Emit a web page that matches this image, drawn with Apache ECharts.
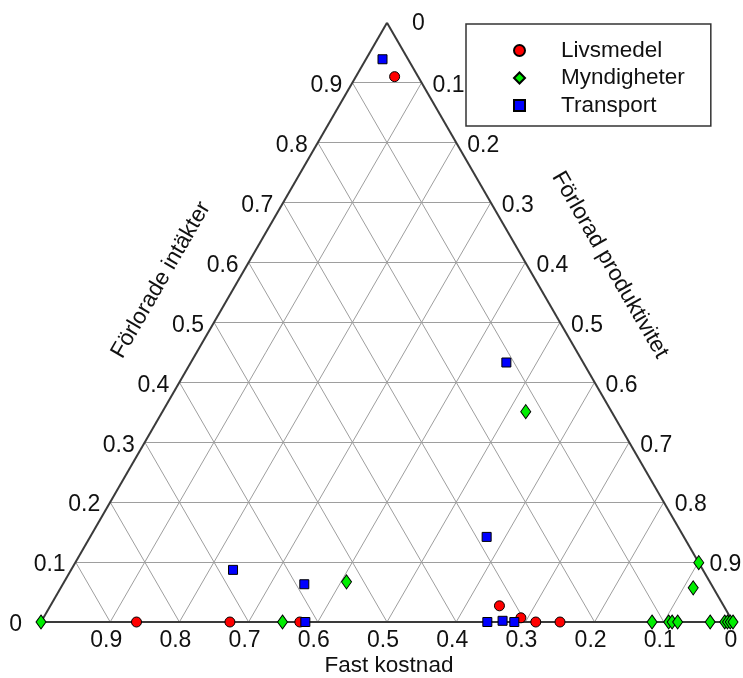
<!DOCTYPE html>
<html>
<head>
<meta charset="utf-8">
<script src="https://cdn.jsdelivr.net/npm/echarts@6/dist/echarts.min.js"></script>
<style>
html,body{margin:0;padding:0;background:#fff;}
#chart{width:743px;height:678px;}
</style>
</head>
<body>
<div id="chart"></div>
<script>
// Ternary data: [Fast kostnad, Förlorade intäkter, Förlorad produktivitet]
const livsmedel = [
  [0.034, 0.910, 0.056],
  [0.862, 0.000, 0.138],
  [0.727, 0.000, 0.273],
  [0.626, 0.000, 0.374],
  [0.324, 0.027, 0.649],
  [0.303, 0.007, 0.690],
  [0.285, 0.000, 0.715],
  [0.250, 0.000, 0.750]
];
const myndigheter = [
  [1.000, 0.000, 0.000],
  [0.651, 0.000, 0.349],
  [0.525, 0.067, 0.408],
  [0.124, 0.351, 0.525],
  [0.000, 0.099, 0.901],
  [0.029, 0.057, 0.914],
  [0.117, 0.000, 0.883],
  [0.093, 0.000, 0.907],
  [0.088, 0.000, 0.912],
  [0.080, 0.000, 0.920],
  [0.033, 0.000, 0.967],
  [0.012, 0.000, 0.988],
  [0.008, 0.000, 0.992],
  [0.004, 0.000, 0.996],
  [0.000, 0.000, 1.000]
];
const transport = [
  [0.037, 0.939, 0.024],
  [0.111, 0.433, 0.456],
  [0.285, 0.142, 0.573],
  [0.679, 0.087, 0.234],
  [0.588, 0.063, 0.349],
  [0.618, 0.000, 0.382],
  [0.355, 0.000, 0.645],
  [0.332, 0.002, 0.666],
  [0.316, 0.000, 0.684]
];
const seriesNames = ['Livsmedel', 'Myndigheter', 'Transport'];
const tickValues = [0, 0.1, 0.2, 0.3, 0.4, 0.5, 0.6, 0.7, 0.8, 0.9];
const tickLabels = ['0', '0.1', '0.2', '0.3', '0.4', '0.5', '0.6', '0.7', '0.8', '0.9'];
const gridValues = [0.1, 0.2, 0.3, 0.4, 0.5, 0.6, 0.7, 0.8, 0.9];
const axisTitles = ['Fast kostnad', 'Förlorade intäkter', 'Förlorad produktivitet'];

const S3 = Math.sqrt(3) / 2;
// convert ternary (F, I, P) to cartesian
function tern(F, I, P) { return [P + I / 2, I * S3]; }

const FONT = 'Liberation Sans, Arial, sans-serif';
const TXT = '#111111';

// grid lines
const gridLines = [];
gridValues.forEach(k => {
  gridLines.push({coords: [tern(1 - k, k, 0), tern(0, k, 1 - k)]});   // const intäkter
  gridLines.push({coords: [tern(1 - k, 0, k), tern(0, 1 - k, k)]});   // const produktivitet
  gridLines.push({coords: [tern(k, 0, 1 - k), tern(k, 1 - k, 0)]});   // const fast
});
const frame = [
  {coords: [tern(1, 0, 0), tern(0, 0, 1)]},
  {coords: [tern(0, 0, 1), tern(0, 1, 0)]},
  {coords: [tern(0, 1, 0), tern(1, 0, 0)]}
];

// tick labels
const leftTicks = tickValues.map((k, i) => ({
  value: tern(1 - k, k, 0), name: tickLabels[i],
  label: {position: 'left', distance: k === 0 ? 19 : 10, offset: [0, 3]}
}));
const rightTicks = tickValues.map((k, i) => ({
  value: tern(0, 1 - k, k), name: tickLabels[i],
  label: {position: 'right', distance: k === 0 ? 25 : 11, offset: [0, k === 0 ? 1 : 3]}
}));
const bottomTicks = tickValues.map((k, i) => ({
  value: tern(k, 0, 1 - k), name: tickLabels[i],
  label: {position: 'bottom', distance: 7, offset: [k === 0 ? -2 : -4, 0]}
}));

function labelSeries(data) {
  return {
    type: 'scatter', data: data, symbolSize: 0, silent: true, clip: false, z: 3,
    itemStyle: {opacity: 1},
    label: {show: true, formatter: p => p.name, fontFamily: FONT, fontSize: 23, color: TXT, opacity: 1}
  };
}

function dataSeries(name, arr, symbol, size, color) {
  return {
    name: name, type: 'scatter', symbol: symbol, symbolSize: size, clip: false, z: 5,
    itemStyle: {color: color, borderColor: '#000', borderWidth: 1, opacity: 1},
    data: arr.map(d => tern(d[0], d[1], d[2]))
  };
}

const chart = echarts.init(document.getElementById('chart'), null, {renderer: 'canvas'});
chart.setOption({
  backgroundColor: '#fff',
  animation: false,
  grid: {left: 41, top: 22.7, width: 692, height: 599.3, show: false},
  xAxis: {type: 'value', min: 0, max: 1, show: false},
  yAxis: {type: 'value', min: 0, max: S3, show: false},
  legend: {
    data: seriesNames,
    orient: 'vertical', left: 466, top: 24,
    padding: [15, 26, 9, 47],
    itemGap: 4.5, itemWidth: 11, itemHeight: 11,
    selectedMode: false,
    borderColor: '#333', borderWidth: 1.5, borderRadius: 0,
    textStyle: {fontFamily: FONT, fontSize: 22.5, color: TXT, lineHeight: 22, padding: [0, 0, 0, 31]}
  },
  series: [
    {type: 'lines', coordinateSystem: 'cartesian2d', silent: true, z: 1,
     lineStyle: {color: '#9e9e9e', width: 1, opacity: 1}, data: gridLines},
    {type: 'lines', coordinateSystem: 'cartesian2d', silent: true, z: 2,
     lineStyle: {color: '#3a3a3a', width: 2, opacity: 1}, data: frame},
    labelSeries(leftTicks),
    labelSeries(rightTicks),
    labelSeries(bottomTicks),
    dataSeries(seriesNames[0], livsmedel, 'circle', 10, '#ff0000'),
    dataSeries(seriesNames[1], myndigheter, 'diamond', [10, 14], '#00ee00'),
    dataSeries(seriesNames[2], transport, 'rect', 9, '#0000ff')
  ],
  graphic: [
    {type: 'text', x: 389, y: 666, style: {text: axisTitles[0], font: '22.5px ' + FONT, fill: TXT, textAlign: 'center', textVerticalAlign: 'middle'}},
    {type: 'text', x: 161, y: 280, rotation: Math.PI / 3, style: {text: axisTitles[1], font: '22.5px ' + FONT, fill: TXT, textAlign: 'center', textVerticalAlign: 'middle'}},
    {type: 'text', x: 610, y: 265, rotation: -Math.PI / 3, style: {text: axisTitles[2], font: '22.5px ' + FONT, fill: TXT, textAlign: 'center', textVerticalAlign: 'middle'}}
  ]
});
</script>
</body>
</html>
